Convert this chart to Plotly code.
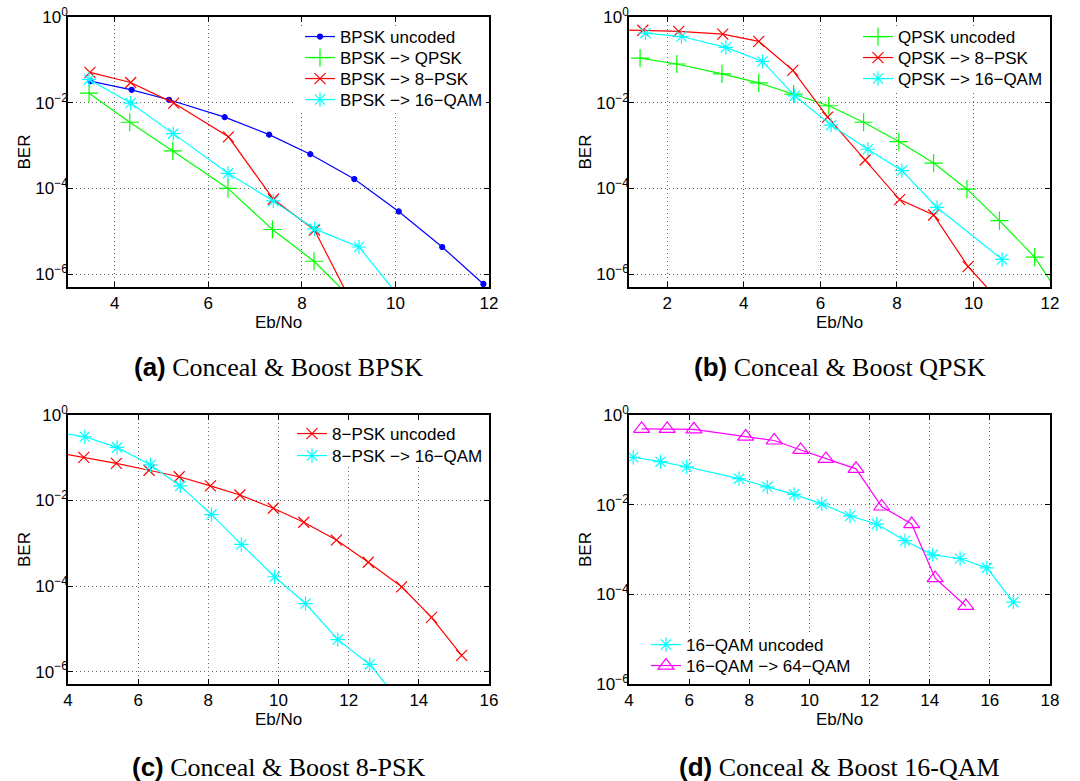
import plotly.graph_objects as go

# ---- data (Eb/No in dB, BER) ----
# (a) BPSK
bpsk_unc_x = [3.48, 4.36, 5.16, 6.35, 7.30, 8.18, 9.12, 10.07, 11.0, 11.88]
bpsk_unc_y = [0.032, 0.020, 0.0117, 0.0046, 0.0018, 6.3e-4, 1.66e-4, 2.9e-5, 4.3e-6, 5.9e-7]
bpsk_qpsk_x = [3.45, 4.32, 5.24, 6.42, 7.37, 8.26, 9.20]
bpsk_qpsk_y = [0.0167, 0.0035, 7.5e-4, 1.0e-4, 1.1e-5, 2.0e-6, 1.9e-7]
bpsk_8psk_x = [3.47, 4.34, 5.26, 6.43, 7.39, 8.27, 9.20]
bpsk_8psk_y = [0.051, 0.0296, 0.0098, 0.0016, 5.6e-5, 1.07e-5, 1.1e-7]
bpsk_16qam_x = [3.45, 4.34, 5.25, 6.42, 7.39, 8.27, 9.22, 10.15]
bpsk_16qam_y = [0.035, 0.0098, 0.0019, 2.25e-4, 5.1e-5, 1.14e-5, 4.3e-6, 2.4e-7]

# (b) QPSK
qpsk_unc_x = [1.29, 2.25, 3.43, 4.39, 5.30, 6.22, 7.13, 8.05, 8.96, 9.83, 10.68, 11.60, 12.50]
qpsk_unc_y = [0.11, 0.080, 0.047, 0.029, 0.0158, 0.0085, 0.0035, 0.00124, 3.9e-4, 9.6e-5, 1.77e-5, 2.5e-6, 1.5e-7]
qpsk_8psk_x = [0.44, 1.36, 2.30, 3.45, 4.39, 5.28, 6.19, 7.17, 8.07, 8.96, 9.86, 10.75]
qpsk_8psk_y = [0.50, 0.49, 0.46, 0.40, 0.27, 0.057, 0.0046, 4.6e-4, 5.5e-5, 2.4e-5, 1.5e-6, 2.0e-7]
qpsk_16qam_x = [1.43, 2.37, 3.53, 4.49, 5.33, 6.28, 7.24, 8.13, 9.05, 10.75]
qpsk_16qam_y = [0.42, 0.35, 0.195, 0.092, 0.0145, 0.0030, 8.2e-4, 2.6e-4, 3.6e-5, 2.2e-6]

# (c) 8-PSK
psk8_unc_x = [3.52, 4.45, 5.38, 6.31, 7.17, 8.06, 8.90, 9.85, 10.72, 11.65, 12.56, 13.51, 14.36, 15.22]
psk8_unc_y = [0.14, 0.102, 0.074, 0.051, 0.036, 0.022, 0.0135, 0.0066, 0.0031, 0.00119, 3.6e-4, 9.6e-5, 1.85e-5, 2.4e-6]
psk8_16qam_x = [3.55, 4.48, 5.40, 6.35, 7.20, 8.09, 8.94, 9.89, 10.77, 11.69, 12.60, 13.50]
psk8_16qam_y = [0.41, 0.31, 0.175, 0.068, 0.022, 0.0047, 9.4e-4, 1.65e-4, 3.9e-5, 5.6e-6, 1.47e-6, 1.8e-7]

# (d) 16-QAM
qam16_unc_x = [4.14, 5.05, 5.92, 7.66, 8.60, 9.49, 10.41, 11.35, 12.24, 13.18, 14.10, 15.01, 15.90, 16.78]
qam16_unc_y = [0.114, 0.091, 0.070, 0.038, 0.025, 0.017, 0.0104, 0.0056, 0.0037, 0.00157, 7.6e-4, 6.3e-4, 3.9e-4, 6.7e-5]
qam16_64qam_x = [4.42, 5.27, 6.16, 7.88, 8.83, 9.71, 10.55, 11.55, 12.40, 13.40, 14.18, 15.20]
qam16_64qam_y = [0.49, 0.49, 0.48, 0.33, 0.27, 0.166, 0.105, 0.063, 0.0091, 0.0037, 2.3e-4, 5.5e-5]

ber_tickvals = [1, 1e-2, 1e-4, 1e-6]
ber_ticktext = ['10<sup>0</sup>', '10<sup>\u22122</sup>', '10<sup>\u22124</sup>', '10<sup>\u22126</sup>']
captions = ['(a)', '(b)', '(c)', '(d)']
caption_texts = ['Conceal &amp; Boost BPSK', 'Conceal &amp; Boost QPSK',
                 'Conceal &amp; Boost 8-PSK', 'Conceal &amp; Boost 16-QAM']

W, H = 1080, 781
SANS = 'Liberation Sans, Arial, sans-serif'
M = '\u2212'


def px(X):
    return X / W


def py(Y):
    return 1 - Y / H


fig = go.Figure()

# axes boxes in pixels (left, right, top, bottom)
boxes = [(68, 489, 17, 287), (629, 1050, 17, 287), (68, 489, 415, 684), (629, 1050, 415, 684)]
xranges = [[3, 12], [1, 12], [4, 16], [4, 18]]
yranges = [[-6.3, 0], [-6.3, 0], [-6.29, 0], [-6, 0]]

# legend entries: text left edge and vertical centre, in pixels
leg_pos = [(341, 37), (341, 58), (341, 79), (341, 100),
           (899, 37), (899, 58), (899, 79),
           (333, 434), (333, 456),
           (687, 645), (687, 666)]
# white boxes behind each legend (l, r, t, b)
leg_boxes = [(294, 486, 26, 111), (853, 1047, 26, 90), (287, 486, 423, 467), (639, 854, 634, 677)]
n_leg = [0]


def add(x, y, name, color, symbol, size, k):
    i = n_leg[0]
    n_leg[0] += 1
    lg = 'legend' if i == 0 else f'legend{i + 1}'
    fig.add_trace(go.Scatter(
        x=x, y=y, name=name, mode='lines+markers',
        line=dict(color=color, width=1.2),
        marker=dict(symbol=symbol, size=size, color=color,
                    line=dict(color=color, width=1.2)),
        xaxis='x' if k == 1 else f'x{k}', yaxis='y' if k == 1 else f'y{k}',
        legend=lg,
    ))


add(bpsk_unc_x, bpsk_unc_y, 'BPSK uncoded', '#0000ff', 'circle', 5, 1)
add(bpsk_qpsk_x, bpsk_qpsk_y, f'BPSK {M}> QPSK', '#00ff00', 'cross-thin', 13, 1)
add(bpsk_8psk_x, bpsk_8psk_y, f'BPSK {M}> 8{M}PSK', '#ff0000', 'x-thin', 11, 1)
add(bpsk_16qam_x, bpsk_16qam_y, f'BPSK {M}> 16{M}QAM', '#00ffff', 'asterisk-open', 12, 1)

add(qpsk_unc_x, qpsk_unc_y, 'QPSK uncoded', '#00ff00', 'cross-thin', 13, 2)
add(qpsk_8psk_x, qpsk_8psk_y, f'QPSK {M}> 8{M}PSK', '#ff0000', 'x-thin', 11, 2)
add(qpsk_16qam_x, qpsk_16qam_y, f'QPSK {M}> 16{M}QAM', '#00ffff', 'asterisk-open', 12, 2)

add(psk8_unc_x, psk8_unc_y, f'8{M}PSK uncoded', '#ff0000', 'x-thin', 11, 3)
add(psk8_16qam_x, psk8_16qam_y, f'8{M}PSK {M}> 16{M}QAM', '#00ffff', 'asterisk-open', 12, 3)

add(qam16_unc_x, qam16_unc_y, f'16{M}QAM uncoded', '#00ffff', 'asterisk-open', 12, 4)
add(qam16_64qam_x, qam16_64qam_y, f'16{M}QAM {M}> 64{M}QAM', '#ff00ff', 'triangle-up-open', 14, 4)

layout = dict(
    width=W, height=H, margin=dict(l=0, r=0, t=0, b=0, autoexpand=False),
    paper_bgcolor='white', plot_bgcolor='white',
    font=dict(family=SANS, size=17, color='black'),
    showlegend=True,
)

for i, (l, r, t, b) in enumerate(boxes):
    k = i + 1
    xs = 'xaxis' if k == 1 else f'xaxis{k}'
    ys = 'yaxis' if k == 1 else f'yaxis{k}'
    common = dict(showline=True, linecolor='black', linewidth=1.5, mirror='ticks',
                  ticks='inside', ticklen=5, tickcolor='black', automargin=False,
                  showgrid=True, gridcolor='#666666', griddash='1px,3px', gridwidth=1,
                  zeroline=False, tickfont=dict(size=17), ticklabeloverflow='allow')
    layout[xs] = dict(domain=[px(l), px(r)], range=xranges[i], dtick=2, tick0=0,
                      anchor='y' if k == 1 else f'y{k}',
                      title=dict(text='Eb/No', standoff=0, font=dict(size=17)), **common)
    layout[ys] = dict(domain=[py(b), py(t)], type='log', range=yranges[i],
                      tickvals=ber_tickvals, ticktext=ber_ticktext, ticklabelstandoff=-5,
                      anchor='x' if k == 1 else f'x{k}',
                      title=dict(text='BER', standoff=0, font=dict(size=17)), **common)

for i, (tx, ty) in enumerate(leg_pos):
    lg = 'legend' if i == 0 else f'legend{i + 1}'
    layout[lg] = dict(x=px(tx - 41), y=py(ty), xanchor='left', yanchor='middle',
                      bgcolor='rgba(0,0,0,0)', borderwidth=0, font=dict(size=17),
                      itemwidth=30)

layout['shapes'] = [dict(type='rect', xref='paper', yref='paper', layer='above',
                         x0=px(l), x1=px(r), y0=py(b), y1=py(t),
                         fillcolor='white', line=dict(width=0))
                    for (l, r, t, b) in leg_boxes]

anns = []
cap_pos = [(278.5, 367), (839.5, 367), (278.5, 767), (839.5, 767)]
for (cx, cy), lab, txt in zip(cap_pos, captions, caption_texts):
    anns.append(dict(
        x=px(cx), y=py(cy), xref='paper', yref='paper', showarrow=False,
        xanchor='center', yanchor='middle',
        text=f"<span style='font-family:Liberation Sans'><b>{lab}</b></span> {txt}",
        font=dict(family='Liberation Serif, Times New Roman, serif', size=26, color='black'),
    ))
layout['annotations'] = anns

fig.update_layout(**layout)
# drop the default 8px page margin so the figure sits at the window's corner
fig.write_html('out.html', config={'displayModeBar': False},
               post_script="document.body.style.margin='0';")
